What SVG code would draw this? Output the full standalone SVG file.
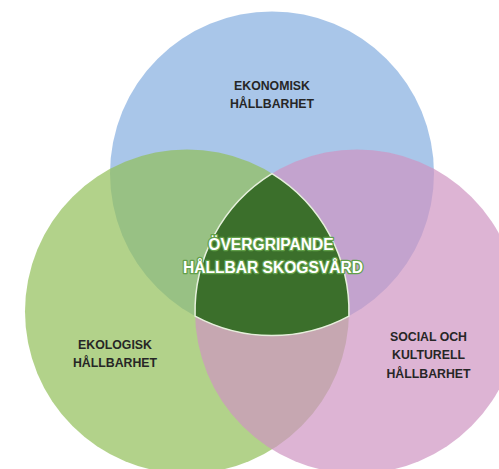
<svg xmlns="http://www.w3.org/2000/svg" width="499" height="469" viewBox="0 0 499 469">
<style>
.c{fill-opacity:0.7}
.lbl{font-family:"Liberation Sans",Arial,sans-serif;font-weight:bold;font-size:12.3px;fill:#262626;text-anchor:middle}
.ctr{font-family:"Liberation Sans",Arial,sans-serif;font-weight:bold;font-size:15.6px;fill:#ffffff;text-anchor:middle;stroke:#62a04a;stroke-width:2.6;stroke-linejoin:round;paint-order:stroke}
</style>
<rect width="499" height="469" fill="#ffffff"/>
<g id="ekonomisk">
<circle class="c" cx="272" cy="173.5" r="162" fill="#84aee0"/>
<text class="lbl" x="272" y="90">EKONOMISK</text>
<text class="lbl" x="272" y="108">HÅLLBARHET</text>
</g>
<g id="ekologisk">
<circle class="c" cx="187" cy="311.5" r="162" fill="#92bf59"/>
<text class="lbl" x="115" y="348.5">EKOLOGISK</text>
<text class="lbl" x="115" y="366.7">HÅLLBARHET</text>
</g>
<g id="social">
<circle class="c" cx="357" cy="311.5" r="162" fill="#ce94c2"/>
<text class="lbl" x="428.5" y="341">SOCIAL OCH</text>
<text class="lbl" x="428.5" y="359.3">KULTURELL</text>
<text class="lbl" x="428.5" y="377.5">HÅLLBARHET</text>
</g>
<g id="overgripande">
<path d="M272,173.6 A162,162 0 0 0 195.07,316.06 A162,162 0 0 0 348.93,316.06 A162,162 0 0 0 272,173.6 Z" fill="#3b6f2b" stroke="#e6f0dc" stroke-width="1.5"/>
<text class="ctr" x="271" y="250">ÖVERGRIPANDE</text>
<text class="ctr" x="273" y="272.5">HÅLLBAR SKOGSVÅRD</text>
</g>
<g id="connectors"></g>
</svg>
